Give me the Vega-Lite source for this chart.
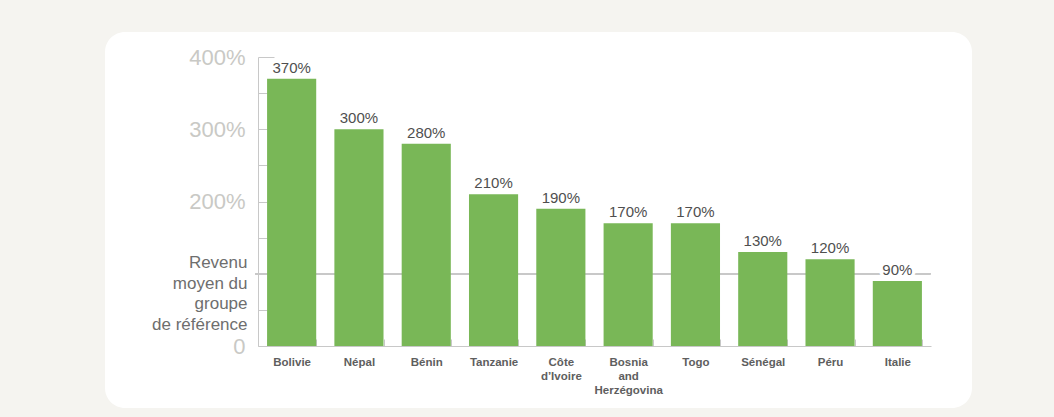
{
  "$schema": "https://vega.github.io/schema/vega-lite/v6.json",
  "width": 867,
  "height": 376,
  "autosize": "none",
  "padding": {"left": 105, "top": 32, "right": 82, "bottom": 9},
  "background": "#f5f4f0",
  "config": {
    "view": {"fill": "white", "stroke": null, "cornerRadius": 20},
    "font": "Liberation Sans"
  },
  "data": {
    "values": [
      {"pays": "Bolivie", "valeur": 3.7},
      {"pays": "Népal", "valeur": 3.0},
      {"pays": "Bénin", "valeur": 2.8},
      {"pays": "Tanzanie", "valeur": 2.1},
      {"pays": "Côte d’Ivoire", "valeur": 1.9},
      {"pays": "Bosnia and Herzégovina", "valeur": 1.7},
      {"pays": "Togo", "valeur": 1.7},
      {"pays": "Sénégal", "valeur": 1.3},
      {"pays": "Péru", "valeur": 1.2},
      {"pays": "Italie", "valeur": 0.9}
    ]
  },
  "encoding": {
    "x": {
      "field": "pays",
      "type": "nominal",
      "sort": null,
      "scale": {
        "domain": ["Bolivie", "Népal", "Bénin", "Tanzanie", "Côte d’Ivoire", "Bosnia and Herzégovina", "Togo", "Sénégal", "Péru", "Italie"],
        "range": [153, 826],
        "paddingInner": 0.27,
        "paddingOuter": 0.135
      },
      "axis": {
        "title": null,
        "offset": -62,
        "labelAngle": 0,
        "labelExpr": "split(datum.label, ' ')",
        "labelFontSize": 11.5,
        "labelFontWeight": "bold",
        "labelColor": "#5e5e5e",
        "labelLineHeight": 14,
        "labelPadding": 17,
        "tickBand": "extent",
        "tickSize": -7,
        "tickColor": "#c8c8c8",
        "domainColor": "#c8c8c8"
      }
    },
    "y": {
      "field": "valeur",
      "type": "quantitative",
      "scale": {"domain": [0, 4], "range": [314, 25], "nice": false},
      "axis": {
        "title": null,
        "offset": -153,
        "grid": false,
        "values": [0, 0.5, 1, 1.5, 2, 2.5, 3, 3.5, 4],
        "labelExpr": "datum.value == 1 ? ['Revenu\u00a0', 'moyen du', 'groupe\u00a0', 'de référence'] : datum.value % 1 != 0 ? '' : datum.value == 0 ? '0' : format(datum.value, '.0%')",
        "labelOverlap": false,
        "labelBound": false,
        "labelFontSize": {"condition": {"test": "datum.value == 1", "value": 17}, "value": 22},
        "labelColor": {"condition": {"test": "datum.value == 1", "value": "#6e6e6e"}, "value": "#c9c9c5"},
        "labelOffset": {"condition": {"test": "datum.value == 1", "value": -11}, "value": 0},
        "labelLineHeight": 20.5,
        "labelPadding": {
          "condition": [
            {"test": "datum.value == 4", "value": 29},
            {"test": "datum.value == 1", "value": 20}
          ],
          "value": 22
        },
        "tickSize": {"condition": {"test": "datum.value == 4", "value": -16}, "value": -9},
        "tickColor": "#c8c8c8",
        "domainColor": "#c8c8c8"
      }
    }
  },
  "layer": [
    {
      "mark": {"type": "rule", "color": "#c8c8c8", "strokeWidth": 1.5, "xOffset": -12, "x2Offset": 33},
      "encoding": {
        "x": {"datum": "Bolivie", "bandPosition": 0},
        "x2": {"datum": "Italie"},
        "y": {"datum": 1}
      }
    },
    {
      "mark": {"type": "bar", "color": "#79b757"}
    },
    {
      "mark": {
        "type": "text",
        "baseline": "alphabetic",
        "dy": -6,
        "fontSize": 15,
        "fill": "white",
        "stroke": "white",
        "strokeWidth": 7
      },
      "encoding": {
        "text": {"field": "valeur", "type": "quantitative", "format": ".0%"}
      }
    },
    {
      "mark": {
        "type": "text",
        "baseline": "alphabetic",
        "dy": -6,
        "fontSize": 15,
        "color": "#4f4f4f"
      },
      "encoding": {
        "text": {"field": "valeur", "type": "quantitative", "format": ".0%"}
      }
    }
  ]
}
